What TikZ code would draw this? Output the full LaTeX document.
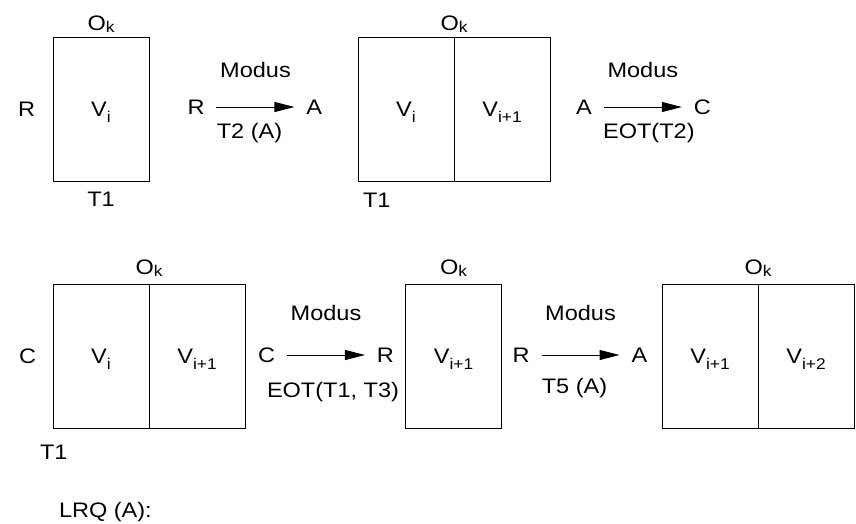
\documentclass[tikz,border=0pt]{standalone}
\usepackage{fontspec}
\setmainfont{Liberation Sans}[FakeStretch=1.12]
\usepackage{tikz}
\usetikzlibrary{positioning,arrows.meta}
\newcommand{\subtxt}[2][6pt]{\raisebox{-#1}{\fontsize{15.5}{16}\selectfont #2}}
\tikzset{
  lbl/.style={inner sep=0pt, outer sep=0pt, text height=15pt, text depth=0pt, font=\fontsize{21}{25}\selectfont},
  cell/.style={lbl, draw, line width=1pt, minimum width=96pt, minimum height=144pt},
  arr/.style={-{Triangle[length=20pt, width=10pt]}, line width=1pt, shorten <=12pt, shorten >=12pt},
}
\begin{document}
\begin{tikzpicture}[x=1pt, y=-1pt]
    \useasboundingbox (0,0) rectangle (856,523);
    \node[cell] (c1) at (101,109) {V\subtxt{i}};
    \node[lbl, above=7pt of c1] (o1) {O\subtxt[2pt]{k}};
    \node[lbl, below=10pt of c1] (t1) {T1};
    \node[lbl, left=18pt of c1] (s1) {R};
    \node[lbl] (r1) at (196,107) {R};
    \node[lbl, right=102pt of r1] (a1) {A};
    \draw[arr] (r1) -- node[lbl, above=30pt] (m1) {Modus} node[lbl, below=16pt, xshift=-6pt] (l1) {T2 (A)} (a1);
    \node[cell] (c2a) at (406,109) {V\subtxt{i}};
    \node[cell, right=0pt of c2a] (c2b) {V\subtxt{i+1}};
    \node[lbl, above=7pt of c2a.north east] (o2) {O\subtxt[2pt]{k}};
    \node[lbl, below right=11pt and 5pt of c2a.south west] (t2) {T1};
    \node[lbl] (a2) at (584,107) {A};
    \node[lbl, right=102pt of a2] (e2) {C};
    \draw[arr] (a2) -- node[lbl, above=30pt] (m2) {Modus} node[lbl, below=16pt, xshift=6pt] (l2) {EOT(T2)} (e2);
    \node[cell] (c3a) at (101,356) {V\subtxt{i}};
    \node[cell, right=0pt of c3a] (c3b) {V\subtxt{i+1}};
    \node[lbl, above=10pt of c3a.north east] (o3) {O\subtxt[2pt]{k}};
    \node[lbl, left=17pt of c3a] (s3) {C};
    \node[lbl, below right=16pt and -13pt of c3a.south west] (t3) {T1};
    \node[lbl, below right=43pt and 19pt of t3.south west] (q3) {LRQ (A):};
    \node[lbl] (e3) at (266.5,355) {C};
    \node[lbl, right=102pt of e3] (r3) {R};
    \draw[arr] (e3) -- node[lbl, above=35pt] (m3) {Modus} node[lbl, below=27pt, xshift=7pt] (l3) {EOT(T1, T3)} (r3);
    \node[cell] (c4) at (453.5,356) {V\subtxt{i+1}};
    \node[lbl, above=10pt of c4] (o4) {O\subtxt[2pt]{k}};
    \node[lbl] (r4) at (521,355) {R};
    \node[lbl, right=102pt of r4] (a4) {A};
    \draw[arr] (r4) -- node[lbl, above=35pt] (m4) {Modus} node[lbl, below=23pt, xshift=-6pt] (l4) {T5 (A)} (a4);
    \node[cell] (c5a) at (710,356) {V\subtxt{i+1}};
    \node[cell, right=0pt of c5a] (c5b) {V\subtxt{i+2}};
    \node[lbl, above=10pt of c5a.north east] (o5) {O\subtxt[2pt]{k}};
\end{tikzpicture}
\end{document}
